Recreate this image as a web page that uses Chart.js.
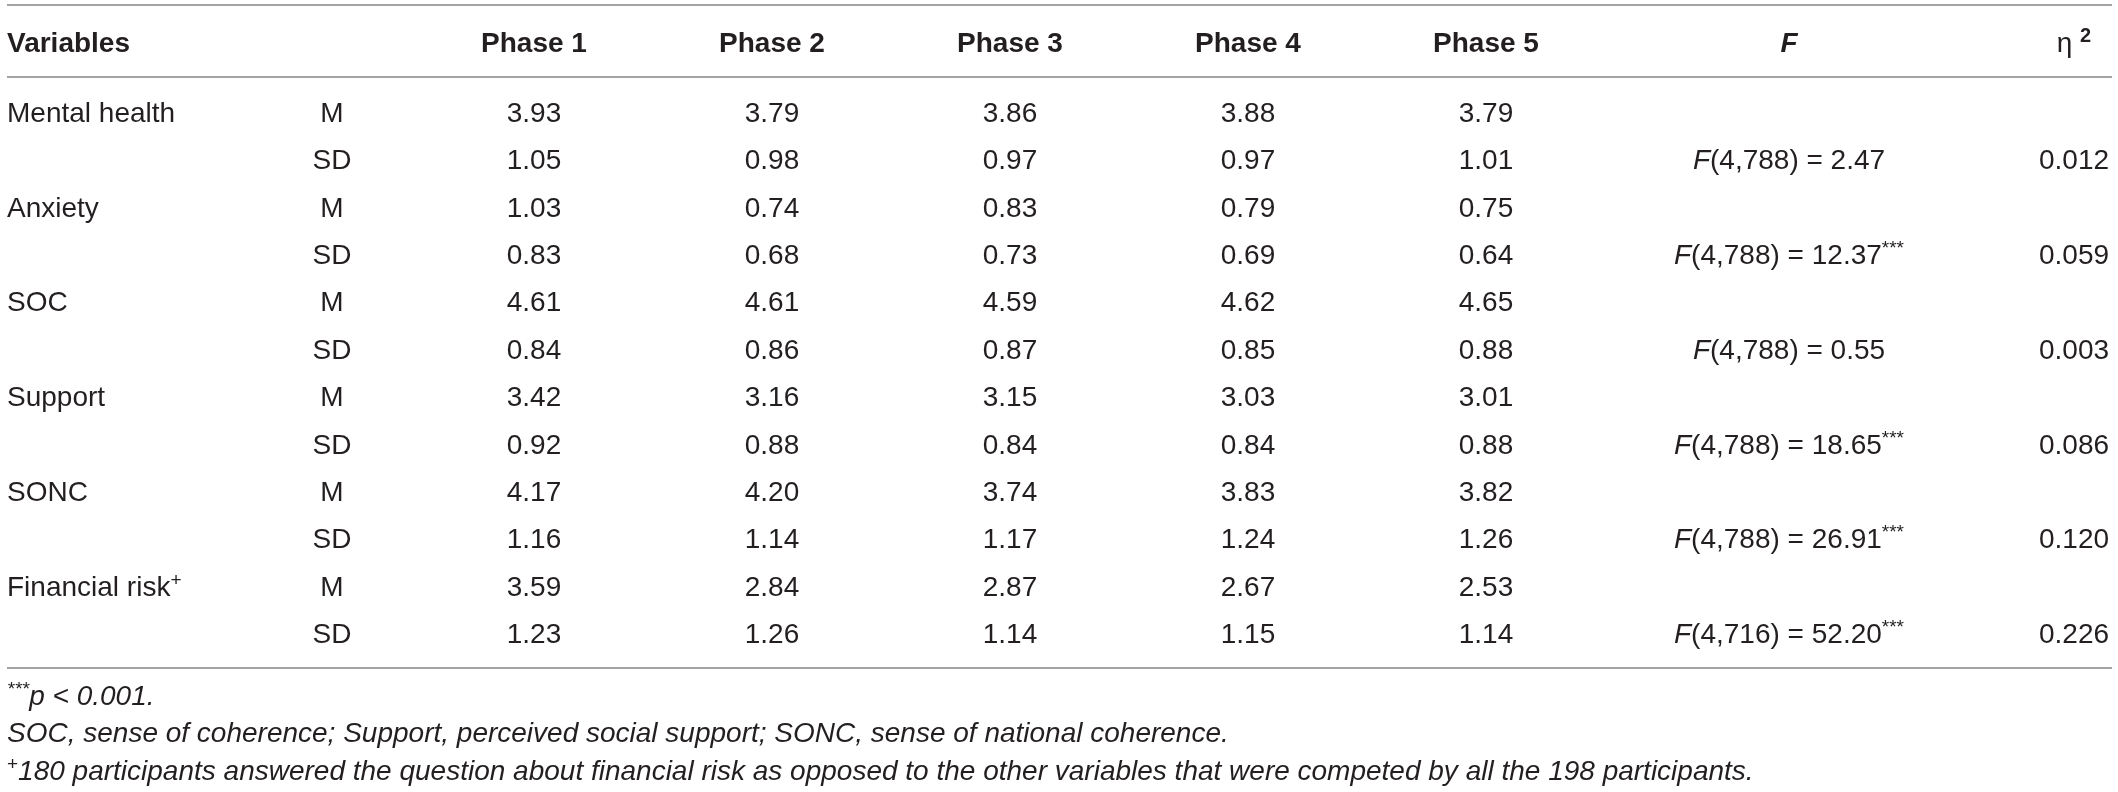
<!DOCTYPE html>
<html>
<head>
<meta charset="utf-8">
<title>Variables by phase</title>
<script src="https://cdn.jsdelivr.net/npm/chart.js@4.4.1/dist/chart.umd.min.js"></script>
<style>
  html, body { margin: 0; padding: 0; background: #fff; }
  #wrap { width: 2118px; height: 792px; position: relative; }
</style>
</head>
<body>
<div id="wrap"><canvas id="chart-table"></canvas></div>
<script>
// ---------- Data ----------
const variables = ['Mental health', 'Anxiety', 'SOC', 'Support', 'SONC', 'Financial risk'];
const variableMarks = ['', '', '', '', '', '+'];
const stats = ['M', 'SD'];
const phases = ['Phase 1', 'Phase 2', 'Phase 3', 'Phase 4', 'Phase 5'];

const meanValues = [
    [3.93, 3.79, 3.86, 3.88, 3.79],
    [1.03, 0.74, 0.83, 0.79, 0.75],
    [4.61, 4.61, 4.59, 4.62, 4.65],
    [3.42, 3.16, 3.15, 3.03, 3.01],
    [4.17, 4.20, 3.74, 3.83, 3.82],
    [3.59, 2.84, 2.87, 2.67, 2.53]
];
const sdValues = [
    [1.05, 0.98, 0.97, 0.97, 1.01],
    [0.83, 0.68, 0.73, 0.69, 0.64],
    [0.84, 0.86, 0.87, 0.85, 0.88],
    [0.92, 0.88, 0.84, 0.84, 0.88],
    [1.16, 1.14, 1.17, 1.24, 1.26],
    [1.23, 1.26, 1.14, 1.15, 1.14]
];
const fDf = ['4,788', '4,788', '4,788', '4,788', '4,788', '4,716'];
const fValues = [2.47, 12.37, 0.55, 18.65, 26.91, 52.20];
const fSignificant = [false, true, false, true, true, true];
const etaSquared = [0.012, 0.059, 0.003, 0.086, 0.120, 0.226];

const notes = [
    [{ t: '***', sup: true, italic: true }, { t: 'p < 0.001.', italic: true }],
    [{ t: 'SOC, sense of coherence; Support, perceived social support; SONC, sense of national coherence.', italic: true }],
    [{ t: '+', sup: true }, { t: '180 participants answered the question about financial risk as opposed to the other variables that were competed by all the 198 participants.', italic: true }]
];

// ---------- Layout (table units) ----------
const W = 2118, H = 792;
const COL_X = [7, 332, 534, 772, 1010, 1248, 1486, 1789, 2074];   // anchors, x scale units
const COL_ALIGN = ['left', 'center', 'center', 'center', 'center', 'center', 'center', 'center', 'center'];
const ROW_PITCH = 47.36, ROW0 = 122;                                // y scale in row units
const HEADER_ROW = -1.48;
const RULE_ROWS = [-2.47, -0.95, 11.53];
const NOTE_ROWS = [12.31, 13.09, 13.89];
const FONT = '"Liberation Sans", Arial, Helvetica, sans-serif';
const INK = '#231f20';

// ---------- Rich text ----------
function segFont(s) {
    const size = s.sup ? (s.bold ? 20 : 19) : 28;
    return `${s.italic ? 'italic ' : ''}${s.bold ? 'bold ' : ''}${size}px ${FONT}`;
}

function drawRich(ctx, segs, x, y, align) {
    ctx.textBaseline = 'alphabetic';
    ctx.textAlign = 'left';
    const widths = segs.map(s => { ctx.font = segFont(s); return ctx.measureText(s.t).width; });
    const total = widths.reduce((a, b) => a + b, 0);
    let cx = align === 'center' ? x - total / 2 : align === 'right' ? x - total : x;
    segs.forEach((s, i) => {
        ctx.font = segFont(s);
        ctx.fillText(s.t, cx, s.sup ? y - 10 : y);
        cx += widths[i];
    });
}

// ---------- Cells ----------
const cells = [];
variables.forEach((name, k) => {
    const rM = 2 * k, rSD = 2 * k + 1;
    const nameSegs = [{ t: name }];
    if (variableMarks[k]) nameSegs.push({ t: variableMarks[k], sup: true });
    cells.push({ x: COL_X[0], y: rM, col: 0, segs: nameSegs });
    cells.push({ x: COL_X[1], y: rM, col: 1, segs: [{ t: stats[0] }] });
    cells.push({ x: COL_X[1], y: rSD, col: 1, segs: [{ t: stats[1] }] });
    phases.forEach((p, j) => {
        cells.push({ x: COL_X[2 + j], y: rM, col: 2 + j, segs: [{ t: meanValues[k][j].toFixed(2) }] });
        cells.push({ x: COL_X[2 + j], y: rSD, col: 2 + j, segs: [{ t: sdValues[k][j].toFixed(2) }] });
    });
    const fSegs = [{ t: 'F', italic: true }, { t: `(${fDf[k]}) = ${fValues[k].toFixed(2)}` }];
    if (fSignificant[k]) fSegs.push({ t: '***', sup: true });
    cells.push({ x: COL_X[7], y: rSD, col: 7, segs: fSegs });
    cells.push({ x: COL_X[8], y: rSD, col: 8, segs: [{ t: etaSquared[k].toFixed(3) }] });
});

const headers = [
    [{ t: 'Variables', bold: true }],
    [],
    ...phases.map(p => [{ t: p, bold: true }]),
    [{ t: 'F', bold: true, italic: true }],
    [{ t: 'η ' }, { t: '2', bold: true, sup: true }]
];

// ---------- Plugin ----------
const tablePlugin = {
    id: 'tableText',
    afterDatasetsDraw(chart) {
        const ctx = chart.ctx;
        const xs = chart.scales.x, ys = chart.scales.y;
        ctx.save();

        // rules
        ctx.strokeStyle = '#a3a3a3';
        ctx.lineWidth = 2;
        RULE_ROWS.forEach(r => {
            const py = Math.round(ys.getPixelForValue(r));
            ctx.beginPath();
            ctx.moveTo(xs.getPixelForValue(7), py);
            ctx.lineTo(xs.getPixelForValue(2112), py);
            ctx.stroke();
        });

        ctx.fillStyle = INK;
        // header
        headers.forEach((segs, c) => {
            if (!segs.length) return;
            drawRich(ctx, segs, xs.getPixelForValue(COL_X[c]), ys.getPixelForValue(HEADER_ROW), COL_ALIGN[c]);
        });

        // body cells, placed by the dataset's own points
        const meta = chart.getDatasetMeta(0);
        meta.data.forEach((pt, i) => {
            const cell = chart.data.datasets[0].data[i];
            drawRich(ctx, cell.segs, pt.x, pt.y, COL_ALIGN[cell.col]);
        });

        // notes
        notes.forEach((segs, i) => {
            drawRich(ctx, segs, xs.getPixelForValue(COL_X[0]), ys.getPixelForValue(NOTE_ROWS[i]), 'left');
        });
        ctx.restore();
    }
};

// ---------- Chart ----------
const canvas = document.getElementById('chart-table');
canvas.width = W; canvas.height = H;
new Chart(canvas.getContext('2d'), {
    type: 'scatter',
    data: { datasets: [{ label: 'cells', data: cells, pointRadius: 0, pointHoverRadius: 0 }] },
    options: {
        responsive: false,
        animation: false,
        devicePixelRatio: 1,
        layout: { padding: 0 },
        plugins: { legend: { display: false }, tooltip: { enabled: false } },
        scales: {
            x: { type: 'linear', display: false, min: 0, max: W },
            y: { type: 'linear', display: false, reverse: true, min: -ROW0 / ROW_PITCH, max: (H - ROW0) / ROW_PITCH }
        }
    },
    plugins: [tablePlugin]
});
</script>
</body>
</html>
